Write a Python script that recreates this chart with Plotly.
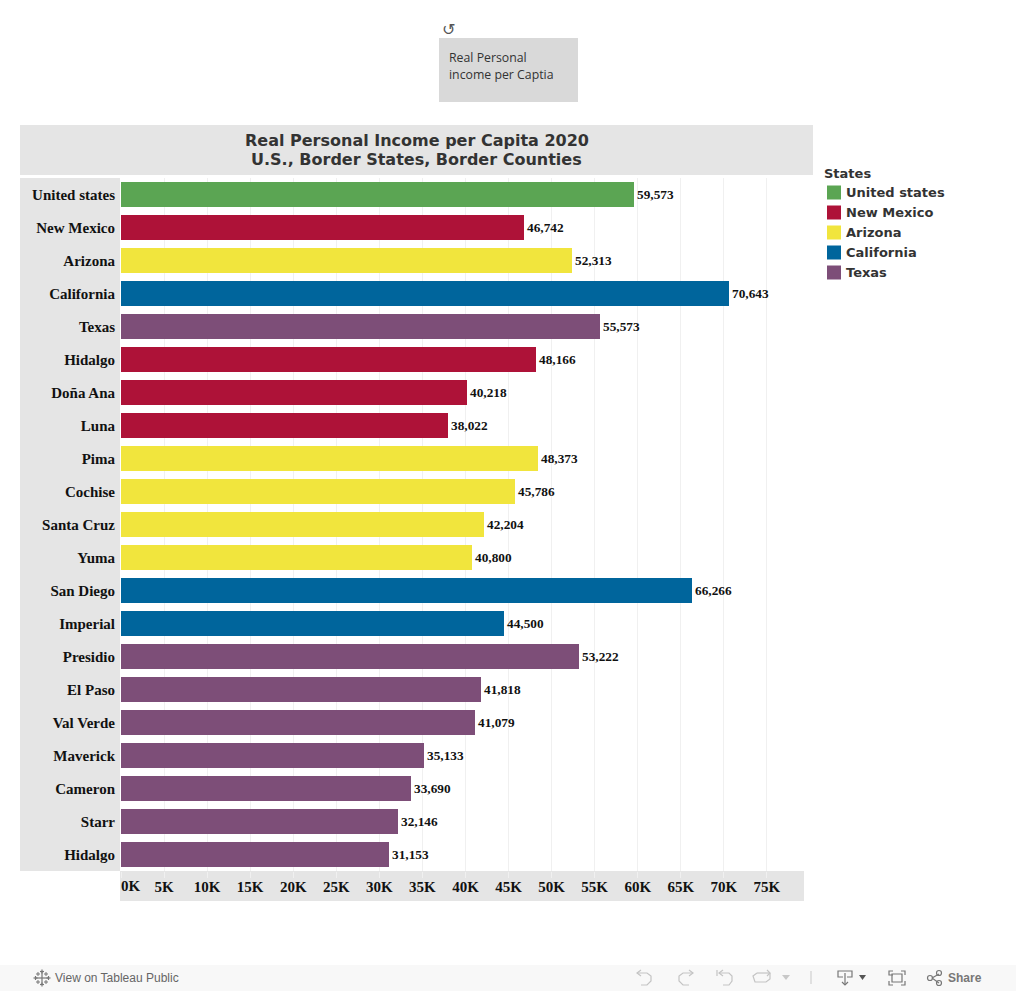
import plotly.graph_objects as go

W, H = 1016, 991

ROW_LABELS = ["United states", "New Mexico", "Arizona", "California", "Texas", "Hidalgo",
              "Doña Ana", "Luna", "Pima", "Cochise", "Santa Cruz", "Yuma", "San Diego",
              "Imperial", "Presidio", "El Paso", "Val Verde", "Maverick", "Cameron",
              "Starr", "Hidalgo"]
ROW_VALUES = [59573, 46742, 52313, 70643, 55573, 48166, 40218, 38022, 48373, 45786, 42204,
              40800, 66266, 44500, 53222, 41818, 41079, 35133, 33690, 32146, 31153]
ROW_STATES = ["United states", "New Mexico", "Arizona", "California", "Texas", "New Mexico",
              "New Mexico", "New Mexico", "Arizona", "Arizona", "Arizona", "Arizona",
              "California", "California", "Texas", "Texas", "Texas", "Texas", "Texas",
              "Texas", "Texas"]
STATES = ["United states", "New Mexico", "Arizona", "California", "Texas"]
STATE_COLORS = ["#5BA553", "#AE1238", "#F1E53D", "#00659C", "#7D4E78"]
X_TICKS = list(range(0, 80000, 5000))
X_TICK_TEXT = ["" if v == 0 else f"{v // 1000}K" for v in X_TICKS]
TITLE_LINES = ["Real Personal Income per Capita 2020", "U.S., Border States, Border Counties"]

BAND = "#E5E5E5"
SERIF = "Liberation Serif"
SANS = "DejaVu Sans"
UI = "Open Sans"


def px(x):
    return x / W


def py(y):
    return 1 - y / H


def rect(x0, y0, x1, y1, color, layer="below"):
    return dict(type="rect", xref="paper", yref="paper", x0=px(x0), x1=px(x1), y0=py(y0), y1=py(y1),
                fillcolor=color, line_width=0, layer=layer)


def path(points, color="#999999", width=1.2, closed=False, fill=None):
    d = "M" + " L".join(f"{px(a):.5f},{py(b):.5f}" for a, b in points)
    if closed:
        d += " Z"
    s = dict(type="path", xref="paper", yref="paper", path=d, line=dict(color=color, width=width), layer="above")
    if fill:
        s["fillcolor"] = fill
        s["line"] = dict(color=fill, width=0)
    return s


def text(x, y, s, size, color, family, anchor="left", valign="middle", weight=None):
    font = dict(size=size, color=color, family=family)
    if weight:
        font["weight"] = weight
    return dict(xref="paper", yref="paper", x=px(x), y=py(y), text=s, showarrow=False, xanchor=anchor,
                yanchor=valign, align=anchor if anchor != "center" else "center",
                font=font, borderpad=0, borderwidth=0)


fig = go.Figure()
for state, color in zip(STATES, STATE_COLORS):
    idx = [i for i, s in enumerate(ROW_STATES) if s == state]
    vals = [ROW_VALUES[i] for i in idx]
    fig.add_trace(go.Bar(
        y=idx, x=vals, name=state, orientation="h", width=25 / 33,
        marker=dict(color=color, line_width=0),
        text=[f"{v:,}" for v in vals], textposition="outside", cliponaxis=False,
        textfont=dict(family=SERIF, size=13.3, color="#111111", weight=700), hoverinfo="x+name",
    ))

shapes = [
    rect(439, 38, 578, 102, "#D9D9D9"),
    rect(20, 125, 813, 175, BAND),
    rect(20, 178, 120, 871, BAND),
    rect(120, 871, 804, 901, BAND),
    rect(0, 965, 1016, 991, "#F8F8F8"),
]

annotations = [
    text(449, 57, "Real Personal", 12.3, "#333333", UI),
    text(449, 75, "income per Captia", 12.3, "#333333", UI),
    text(448.5, 29, "↺", 16, "#555555", SANS, "center"),
    text(416.5, 140.5, TITLE_LINES[0], 16, "#333333", SANS, "center", weight=700),
    text(416.5, 159.5, TITLE_LINES[1], 16, "#333333", SANS, "center", weight=700),
    text(824, 173, "States", 13, "#333333", SANS, weight=700),
    text(55, 978, "View on Tableau Public", 12, "#666666", "Liberation Sans"),
    text(948, 978, "Share", 12, "#777777", "Liberation Sans", weight=700),
    dict(xref="x", yref="paper", x=0, xshift=10, y=py(886), text="0K", showarrow=False,
         xanchor="center", yanchor="middle",
         font=dict(size=15, color="#111111", family=SERIF, weight=700)),
]

for i, (state, color) in enumerate(zip(STATES, STATE_COLORS)):
    cy = 192.5 + 20 * i
    shapes.append(rect(827, cy - 7, 841, cy + 7, color))
    annotations.append(text(846, cy, state, 13, "#333333", SANS, weight=700))

# Tableau Public toolbar icons
LG = "#C4C4C4"
DG = "#777777"
for cx, cy, r in [(42, 978, 6), (42, 971.5, 2), (42, 984.5, 2), (35.5, 978, 2), (48.5, 978, 2)]:
    shapes.append(path([(cx - r, cy), (cx + r, cy)], DG, 1.2))
    shapes.append(path([(cx, cy - r), (cx, cy + r)], DG, 1.2))
for dx, dy in [(-4, -4), (4, -4), (-4, 4), (4, 4)]:
    shapes.append(path([(42 + dx - 2, 978 + dy), (42 + dx + 2, 978 + dy)], DG, 1))
    shapes.append(path([(42 + dx, 978 + dy - 2), (42 + dx, 978 + dy + 2)], DG, 1))
shapes += [
    path([(641, 970), (637, 973), (641, 976)], LG),
    path([(637, 973), (647, 973), (651, 976), (651, 981), (647, 985), (641, 985)], LG),
    path([(689, 970), (693, 973), (689, 976)], LG),
    path([(693, 973), (683, 973), (679, 976), (679, 981), (683, 985), (689, 985)], LG),
    path([(717, 970), (717, 976)], LG),
    path([(723, 970), (719, 973), (723, 976)], LG),
    path([(719, 973), (729, 973), (732, 976), (732, 981), (729, 985), (723, 985)], LG),
    path([(757, 973), (770, 973)], LG),
    path([(767, 970), (770, 973), (767, 976)], LG),
    path([(757, 973), (753, 976), (755, 982), (766, 982), (770, 979), (770, 973)], LG),
    path([(782, 975), (790, 975), (786, 980)], closed=True, fill="#C8C8C8"),
    path([(811, 971), (811, 984)], "#C8C8C8", 1),
    path([(843, 977), (838, 977), (838, 971), (852, 971), (852, 977), (847, 977)], DG),
    path([(845, 973), (845, 985)], DG),
    path([(842, 982), (845, 985), (848, 982)], DG),
    path([(859, 975), (866, 975), (862.5, 980)], closed=True, fill="#555555"),
    path([(893, 975), (889, 975), (889, 971), (893, 971)], DG),
    path([(901, 971), (905, 971), (905, 975)], DG),
    path([(889, 981), (889, 985), (893, 985)], DG),
    path([(901, 985), (905, 985), (905, 981)], DG),
    path([(892, 974), (902, 974), (902, 982), (892, 982)], DG, closed=True),
    path([(932, 978), (939, 974)], DG),
    path([(932, 978), (939, 983)], DG),
]
for cx, cy in [(930, 978), (939, 973), (939, 983)]:
    shapes.append(dict(type="circle", xref="paper", yref="paper", x0=px(cx - 2.5), x1=px(cx + 2.5),
                       y0=py(cy + 2.5), y1=py(cy - 2.5), line=dict(color=DG, width=1.2), layer="above"))

fig.update_layout(
    width=W, height=H, autosize=False, margin=dict(l=0, r=0, t=0, b=0, pad=0),
    paper_bgcolor="white", plot_bgcolor="white", showlegend=False, barmode="overlay",
    bargap=0, shapes=shapes, annotations=annotations,
    xaxis=dict(domain=[px(121), px(804)], range=[0, (804 - 121) / (645.9 / 75000)],
               tickvals=X_TICKS, ticktext=X_TICK_TEXT, ticks="outside", ticklen=6, tickcolor="#F0F0F0",
               tickwidth=1, showgrid=True, gridcolor="#F0F0F0", gridwidth=1, zeroline=False,
               showline=False, ticklabelstandoff=-4, fixedrange=True,
               tickfont=dict(family=SERIF, size=15, color="#111111", weight=700), anchor="y"),
    yaxis=dict(domain=[py(871), py(178)], range=[20.5, -0.5], tickvals=list(range(len(ROW_LABELS))),
               ticktext=ROW_LABELS, ticks="", showgrid=False, zeroline=False, showline=False,
               ticklabelstandoff=5, ticklabelshift=0, fixedrange=True,
               tickfont=dict(family=SERIF, size=15, color="#111111", weight=700), anchor="x"),
)

fig.write_html("out.html", config=dict(displayModeBar=False),
               post_script="document.body.style.margin='0';document.body.style.overflow='hidden';")
